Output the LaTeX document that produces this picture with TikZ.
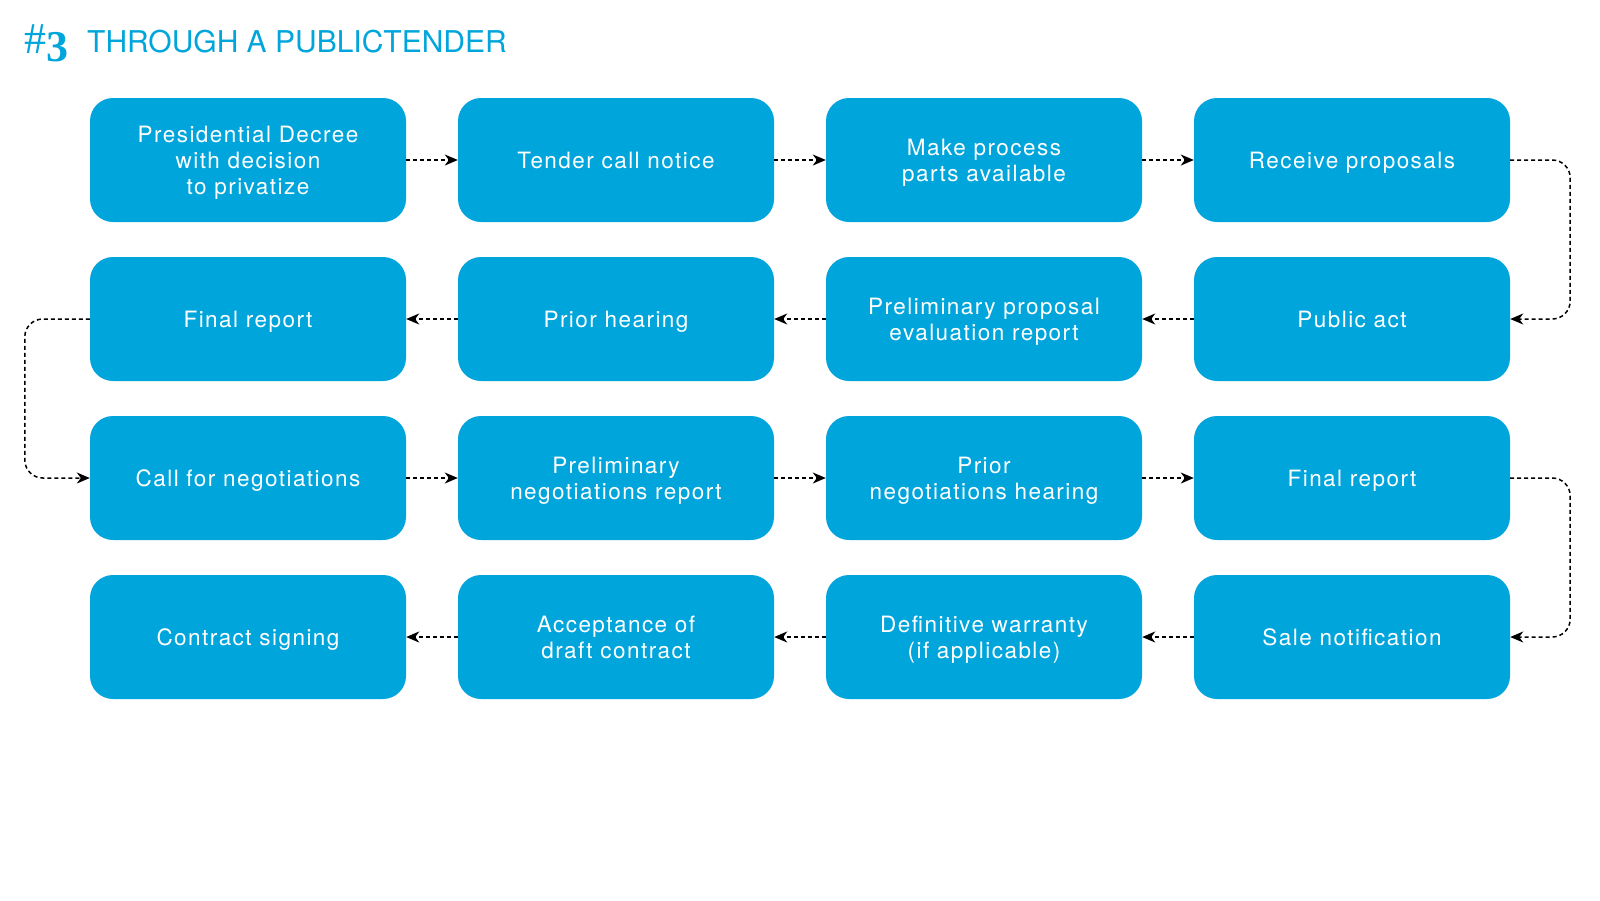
\documentclass[tikz,border=0pt]{standalone}
\usepackage{fontspec}
\setmainfont{TeX Gyre Heros}
\newfontfamily\serifnum{Liberation Serif}
\newfontfamily\boxfont[LetterSpace=6.5]{TeX Gyre Heros}
\usetikzlibrary{arrows.meta}
\definecolor{boxblue}{HTML}{00A5DB}
\begin{document}
\begin{tikzpicture}[x=1pt,y=-1pt,
  stepbox/.style={fill=boxblue,rounded corners=23pt,minimum width=316pt,minimum height=124pt,
    text=white,align=center,font=\boxfont\fontsize{22.5}{26}\selectfont,inner sep=0pt,anchor=center,
    text height=16.2pt,text depth=0pt},
  twoline/.style={text height=42.2pt},
  threeline/.style={text height=68.2pt},
  flow/.style={dash pattern=on 4pt off 3pt,line width=1.5pt,-{Stealth[length=13pt,width=11pt,inset=4pt]}}]
\useasboundingbox[fill=white] (0,0) rectangle (1600,900);
\node[anchor=base west,text=boxblue,inner sep=0pt] (num) at (24,53) {\serifnum\fontsize{44}{44}\selectfont\#\raisebox{-8pt}{\textbf{3}}};
\node[anchor=base west,text=boxblue,inner sep=0pt,font=\fontsize{30}{30}\selectfont] (title) at (87,52) {THROUGH A PUBLICTENDER};
% row 1
\node[stepbox,threeline] (a1) at (248,160) {Presidential Decree\\with decision\\to privatize};
\node[stepbox] (a2) at (616,160) {Tender call notice};
\node[stepbox,twoline] (a3) at (984,160) {Make process\\parts available};
\node[stepbox] (a4) at (1352,160) {Receive proposals};
% row 2
\node[stepbox] (b1) at (248,319) {Final report};
\node[stepbox] (b2) at (616,319) {Prior hearing};
\node[stepbox,twoline] (b3) at (984,319) {Preliminary proposal\\evaluation report};
\node[stepbox] (b4) at (1352,319) {Public act};
% row 3
\node[stepbox] (c1) at (248,478) {Call for negotiations};
\node[stepbox,twoline] (c2) at (616,478) {Preliminary\\negotiations report};
\node[stepbox,twoline] (c3) at (984,478) {Prior\\negotiations hearing};
\node[stepbox] (c4) at (1352,478) {Final report};
% row 4
\node[stepbox] (d1) at (248,637) {Contract signing};
\node[stepbox,twoline] (d2) at (616,637) {Acceptance of\\draft contract};
\node[stepbox,twoline] (d3) at (984,637) {Definitive warranty\\(if applicable)};
\node[stepbox] (d4) at (1352,637) {Sale notification};
% connectors
\draw[flow] (a1) -- (a2);
\draw[flow] (a2) -- (a3);
\draw[flow] (a3) -- (a4);
\draw[flow,rounded corners=18pt] (a4.east) -- ++(60,0) |- (b4.east);
\draw[flow] (b4) -- (b3);
\draw[flow] (b3) -- (b2);
\draw[flow] (b2) -- (b1);
\draw[flow,rounded corners=18pt] (b1.west) -- ++(-65,0) |- (c1.west);
\draw[flow] (c1) -- (c2);
\draw[flow] (c2) -- (c3);
\draw[flow] (c3) -- (c4);
\draw[flow,rounded corners=18pt] (c4.east) -- ++(60,0) |- (d4.east);
\draw[flow] (d4) -- (d3);
\draw[flow] (d3) -- (d2);
\draw[flow] (d2) -- (d1);
\end{tikzpicture}
\end{document}
